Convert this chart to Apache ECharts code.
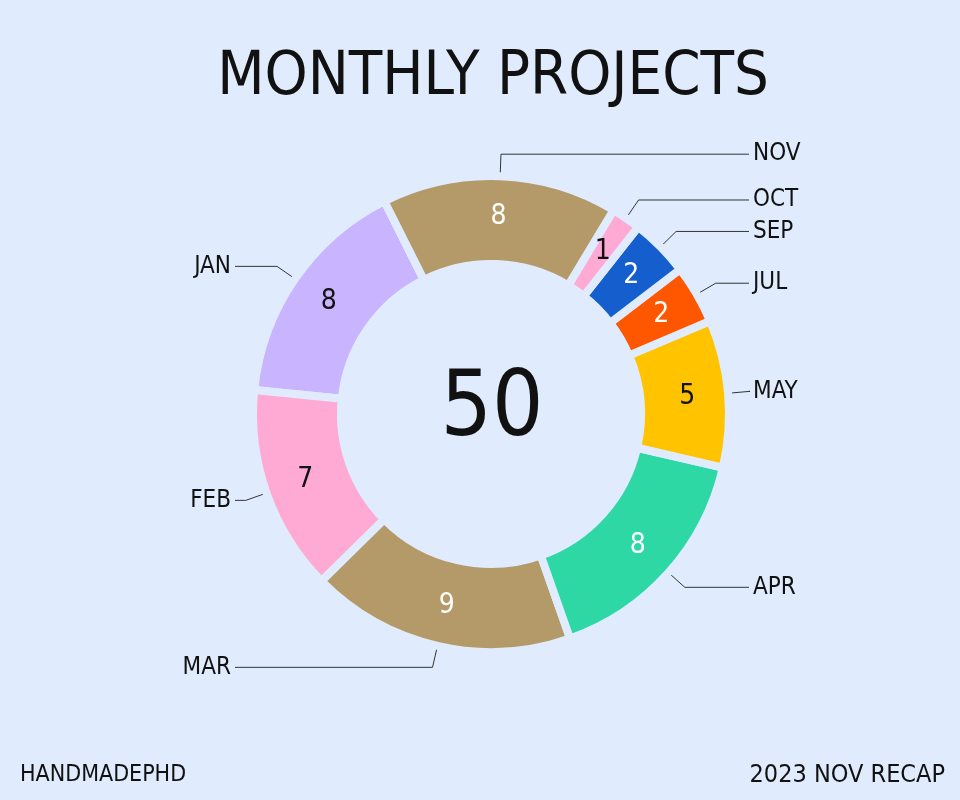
<!DOCTYPE html>
<html><head><meta charset="utf-8">
<script src="https://cdn.jsdelivr.net/npm/echarts@6/dist/echarts.min.js"></script>
<style>html,body{margin:0;padding:0;background:#e0ecfd;}#c{width:960px;height:800px;}</style>
</head><body><div id="c"></div>
<script>
const months = ['JAN','FEB','MAR','APR','MAY','JUL','SEP','OCT','NOV'];
const projects = [8, 7, 9, 8, 5, 2, 2, 1, 8];
const sliceColors = ['#c8b4ff','#ffaad4','#b59a69','#2ed8a5','#ffc300','#ff5700','#155ece','#ffaad4','#b59a69'];
const valueLabelColors = ['#111','#111','#fff','#fff','#111','#fff','#fff','#111','#fff'];
const titleText = 'MONTHLY PROJECTS';
const footerLeft = 'HANDMADEPHD';
const footerRight = '2023 NOV RECAP';

const BG = '#e0ecfd';
const FONT = '"Liberation Sans Narrow", "DejaVu Sans Condensed", "Noto Sans", sans-serif';
const total = projects.reduce((a, b) => a + b, 0);
const CENTER = [491, 414];
const RADIUS = [150, 238];
const LEFT_COL = 235;
const RIGHT_COL = 749;

const chart = echarts.init(document.getElementById('c'));
const common = {
  type: 'pie',
  center: CENTER,
  radius: RADIUS,
  startAngle: 116.6,
  clockwise: false,
  animation: false
};
chart.setOption({
  backgroundColor: BG,
  color: sliceColors,
  title: [
    { text: titleText, left: 493, textAlign: 'center', top: 48, padding: 0,
      textStyle: { fontFamily: FONT, fontSize: 61, fontWeight: 'normal', color: '#111' } },
    { text: String(total), left: CENTER[0] + 1, top: CENTER[1] - 47, textAlign: 'center', padding: 0,
      textStyle: { fontFamily: FONT, fontSize: 90, fontWeight: 'normal', color: '#111' } },
    { text: footerLeft, left: 20, top: 764, padding: 0,
      textStyle: { fontFamily: FONT, fontSize: 23, fontWeight: 'normal', color: '#111' } },
    { text: footerRight, right: 15, top: 763, padding: 0,
      textStyle: { fontFamily: FONT, fontSize: 25, fontWeight: 'normal', color: '#111' } }
  ],
  series: [
    Object.assign({}, common, {
      name: 'names',
      itemStyle: { borderColor: BG, borderWidth: 8 },
      label: { show: true, position: 'outside', formatter: '{b}',
        fontFamily: FONT, fontSize: 24, color: '#111' },
      labelLine: { show: true, length: 22, length2: 10, lineStyle: { color: '#333', width: 1 } },
      labelLayout: function (p) {
        if (!p.labelLinePoints) return {};
        const pts = p.labelLinePoints.map(q => q.slice());
        const left = pts[2][0] < CENTER[0];
        pts[2][0] = left ? LEFT_COL : RIGHT_COL;
        return {
          labelLinePoints: pts,
          x: left ? LEFT_COL - 4 : RIGHT_COL + 4,
          y: pts[2][1],
          align: left ? 'right' : 'left',
          verticalAlign: 'middle'
        };
      },
      emphasis: { disabled: true },
      data: months.map((m, i) => ({ name: m, value: projects[i] }))
    }),
    Object.assign({}, common, {
      name: 'values',
      silent: true,
      z: 3,
      itemStyle: { color: 'rgba(0,0,0,0)', borderWidth: 0 },
      label: { show: true, position: 'inside', formatter: '{c}', fontFamily: FONT, fontSize: 28 },
      labelLine: { show: false },
      emphasis: { disabled: true },
      data: months.map((m, i) => ({ name: m, value: projects[i], label: { color: valueLabelColors[i] } }))
    })
  ]
});
</script></body></html>
